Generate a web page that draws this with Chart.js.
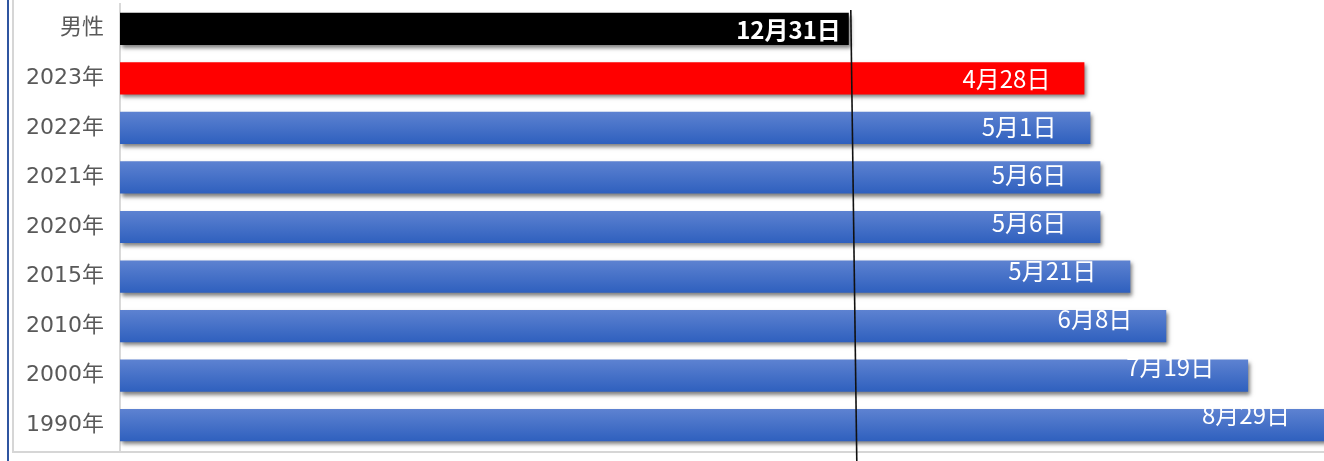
<!DOCTYPE html>
<html lang="ja">
<head>
<meta charset="utf-8">
<title>男女の賃金格差</title>
<script src="https://cdn.jsdelivr.net/npm/chart.js@4.4.1/dist/chart.umd.min.js"></script>
<style>
    html, body { margin: 0; padding: 0; background: #fff; overflow: hidden; }
    #wrap { position: relative; width: 1324px; height: 461px; }
</style>
</head>
<body>
<div id="wrap"><canvas id="gap-chart" width="1324" height="461"></canvas></div>
<script>
// --- Data --- //
// days a woman must work to earn what a man earns by 12/31 (365 = one year)
const categories = ['男性', '2023年', '2022年', '2021年', '2020年', '2015年', '2010年', '2000年', '1990年'];
const workDays = [365, 483, 486, 491, 491, 506, 524, 565, 606];
const dateLabels = ['12月31日', '4月28日', '5月1日', '5月6日', '5月6日', '5月21日', '6月8日', '7月19日', '8月29日'];
const xMin = 0;
const xMax = 603;
const referenceDay = 365;

// --- Plugins --- //
const framePlugin = {
    id: 'frame',
    beforeDraw(chart) {
        const ctx = chart.ctx;
        ctx.save();
        ctx.fillStyle = '#2f55a0';
        ctx.fillRect(7, 0, 2, chart.height);
        ctx.fillStyle = '#d6d6d6';
        ctx.fillRect(12, 0, 2, 453);
        ctx.fillRect(12, 451, chart.width - 12, 2);
        ctx.restore();
    }
};

const shadowPlugin = {
    id: 'barShadow',
    beforeDatasetsDraw(chart) {
        const ctx = chart.ctx;
        ctx.save();
        ctx.shadowColor = 'rgba(0, 0, 0, 0.5)';
        ctx.shadowBlur = 4;
        ctx.shadowOffsetX = 2;
        ctx.shadowOffsetY = 3;
    },
    afterDatasetsDraw(chart) {
        chart.ctx.restore();
    }
};

const dateLabelPlugin = {
    id: 'dateLabels',
    afterDatasetsDraw(chart) {
        const ctx = chart.ctx;
        const meta = chart.getDatasetMeta(0);
        ctx.save();
        ctx.fillStyle = '#ffffff';
        ctx.textAlign = 'right';
        ctx.textBaseline = 'middle';
        meta.data.forEach((bar, i) => {
            const first = i === 0;
            ctx.font = (first ? 'bold ' : '') + '24px "Noto Sans CJK JP", sans-serif';
            const x = Math.min(bar.x, chart.chartArea.right) - (first ? 8 : 34);
            const y = bar.y + 1 - (first ? 0 : (i - 1) * 1.6);
            ctx.fillText(dateLabels[i], x, y);
        });
        ctx.restore();
    }
};

const markerLinePlugin = {
    id: 'markerLine',
    afterDraw(chart) {
        const ctx = chart.ctx;
        const x = chart.scales.x.getPixelForValue(referenceDay) + 2;
        ctx.save();
        ctx.strokeStyle = '#111';
        ctx.lineWidth = 1.6;
        ctx.beginPath();
        ctx.moveTo(x, 10);
        ctx.lineTo(x + 6, chart.height);
        ctx.stroke();
        ctx.restore();
    }
};

function barColor(context) {
    const i = context.dataIndex;
    if (i === 0) return '#000000';
    if (i === 1) return '#ff0000';
    const chart = context.chart;
    const yScale = chart.scales.y;
    if (!yScale || !chart.chartArea) return '#4170c8';
    const yc = yScale.getPixelForValue(i);
    const half = 16;
    const g = chart.ctx.createLinearGradient(0, yc - half, 0, yc + half);
    g.addColorStop(0, '#5d82d1');
    g.addColorStop(1, '#2f60be');
    return g;
}

// --- Chart --- //
const ctx = document.getElementById('gap-chart').getContext('2d');
new Chart(ctx, {
    type: 'bar',
    data: {
        labels: categories,
        datasets: [{
            data: workDays,
            backgroundColor: barColor,
            borderWidth: 0,
            barPercentage: 0.65,
            categoryPercentage: 1
        }]
    },
    options: {
        indexAxis: 'y',
        responsive: false,
        animation: false,
        layout: { padding: { top: 4, bottom: 11, left: 0, right: 0 } },
        plugins: {
            legend: { display: false },
            tooltip: { enabled: false }
        },
        scales: {
            x: {
                display: false,
                min: xMin,
                max: xMax
            },
            y: {
                grid: { display: false, drawTicks: false },
                border: { display: true, color: '#d9d9d9', width: 2 },
                ticks: {
                    color: '#595959',
                    padding: 16,
                    font: { family: '"DejaVu Sans", "Noto Sans CJK JP", sans-serif', size: 22 }
                },
                afterFit(scale) {
                    scale.width = 120;
                    scale.paddingTop = 0;
                    scale.paddingBottom = 0;
                }
            }
        }
    },
    plugins: [framePlugin, shadowPlugin, dateLabelPlugin, markerLinePlugin]
});
</script>
</body>
</html>
